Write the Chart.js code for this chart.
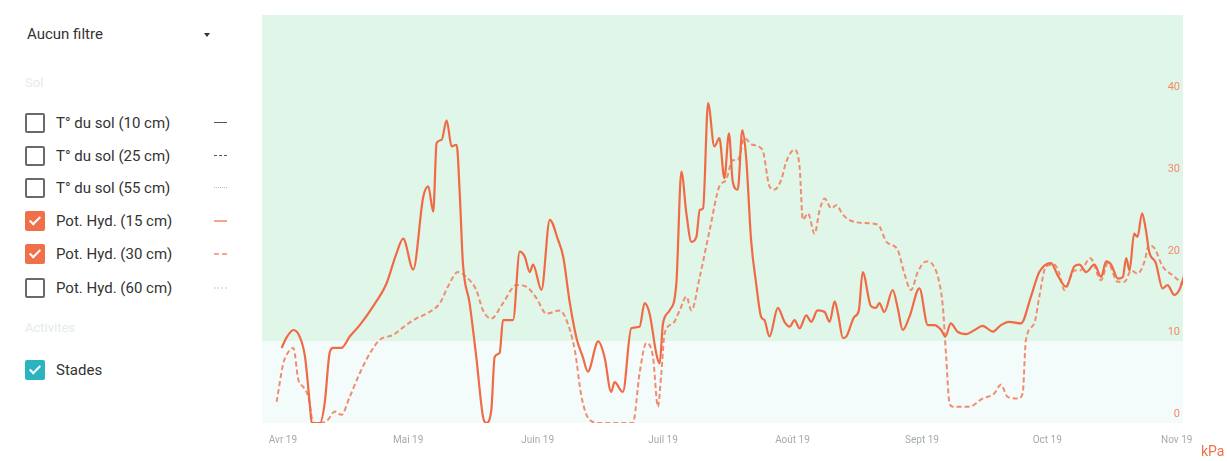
<!DOCTYPE html>
<html>
<head>
<meta charset="utf-8">
<script src="https://cdn.jsdelivr.net/npm/chart.js@4/dist/chart.umd.min.js"></script>
<style>
  html, body { margin:0; padding:0; background:#fff; width:1227px; height:461px; overflow:hidden; font-family: Roboto, "Noto Sans", sans-serif; }
  #panel { position:absolute; left:0; top:0; width:250px; height:461px; }
  .filter { position:absolute; left:27px; top:25px; font-size:15px; color:#333; }
  .arrow { position:absolute; left:204px; top:33px; width:0; height:0; border-left:3px solid transparent; border-right:3px solid transparent; border-top:4px solid #333; }
  .section { position:absolute; left:25px; font-size:13px; color:#e3ecea; }
  .row { position:absolute; left:25px; height:20px; width:210px; }
  .box { position:absolute; left:0; top:0; width:16px; height:16px; border:2px solid #6a6a6a; border-radius:2px; box-sizing:content-box; }
  .box.on { border-color:#f0704a; background:#f0704a; }
  .box.teal { border-color:#2bb3be; background:#2bb3be; }
  .box.on::after, .box.teal::after { content:""; position:absolute; left:5px; top:1px; width:4px; height:9px; border:solid #fff; border-width:0 2px 2px 0; transform:rotate(45deg); }
  .lbl { position:absolute; left:31px; top:0; font-size:15px; color:#333; line-height:20px; white-space:nowrap; }
  .ind { position:absolute; left:189px; top:9px; width:13px; height:0; }
  #chartbox { position:absolute; left:250px; top:0; width:977px; height:461px; }
  #kpa { position:absolute; left:1201px; top:443px; font-size:14px; color:#f0704a; }
</style>
</head>
<body>
<div id="panel">
  <div class="filter">Aucun filtre</div>
  <div class="arrow"></div>
  <div class="section" style="top:75px;">Sol</div>
  <div class="row" style="top:113px;"><div class="box"></div><div class="lbl">T° du sol (10 cm)</div><div class="ind" style="border-top:1px solid #555;"></div></div>
  <div class="row" style="top:146px;"><div class="box"></div><div class="lbl">T° du sol (25 cm)</div><div class="ind" style="border-top:1px dashed #555;"></div></div>
  <div class="row" style="top:178px;"><div class="box"></div><div class="lbl">T° du sol (55 cm)</div><div class="ind" style="border-top:1px dotted #bbb;"></div></div>
  <div class="row" style="top:211px;"><div class="box on"></div><div class="lbl">Pot. Hyd. (15 cm)</div><div class="ind" style="border-top:2px solid #f4a58f;"></div></div>
  <div class="row" style="top:244px;"><div class="box on"></div><div class="lbl">Pot. Hyd. (30 cm)</div><div class="ind" style="border-top:2px dashed #f4a58f;"></div></div>
  <div class="row" style="top:278px;"><div class="box"></div><div class="lbl">Pot. Hyd. (60 cm)</div><div class="ind" style="border-top:2px dotted #f8dccf;"></div></div>
  <div class="section" style="top:320px;">Activites</div>
  <div class="row" style="top:360px;"><div class="box teal"></div><div class="lbl">Stades</div></div>
</div>
<div id="chartbox"><canvas id="c"></canvas></div>
<div id="kpa">kPa</div>
<script>
// Days counted from 1 April 2019
const monthDays   = [0, 30, 61, 91, 122, 153, 183, 214];
const monthLabels = ["Avr 19", "Mai 19", "Juin 19", "Juil 19", "Août 19", "Sept 19", "Oct 19", "Nov 19"];
const yTicks = [0, 10, 20, 30, 40];

// Pot. Hyd. (15 cm) — solid
const hyd15Days = [-0.3,0.8,2.5,4,5.3,6.5,6.9,8.9,10,11.2,12,14,16,18.4,21.6,24.8,27.2,28.8,31.2,33.6,34.8,36,36.8,38,39.2,40.4,41.6,42.3,43.1,44.7,46.3,47.9,48.7,49.9,50.7,51.9,52.7,55.1,56.7,57.9,59.1,59.9,61.9,63.9,65.9,67.1,68.7,70.3,71.8,73,75.5,77,78.6,79.4,81.4,83.4,85.4,86.6,87.8,89.4,90.2,91,92.6,94.2,95.4,96.6,97.8,99,99.8,100.6,101.8,103.3,104.5,105.7,106.8,107.7,108.9,110,110.9,112.1,113.3,114.5,115.3,116.5,118.5,120.1,121.3,122.5,123.7,125.3,126.5,128,129.7,130.9,132.1,132.9,134.1,134.9,136.8,137.9,138.8,140.8,142,142.8,144,146,147.2,148.4,150,152.4,154.4,156,157.6,158.6,159.9,161.5,163.6,165.6,167.5,170,171.9,173.9,176.7,179.1,181.1,183.9,185.5,187.5,189.5,190.7,192.3,194.3,195.9,197.1,198.3,199.9,201.1,201.9,202.7,203.8,204.6,205.7,206.6,207.4,209,210.6,211.8,213.4,214.6,215.8];
const hyd15Values = [9.2,10.4,11.4,10.6,8.1,2,0,0,2.4,8.6,9.2,9.2,10.6,12,14.3,17.1,20.8,22.6,18.8,27.7,29,25.9,34.3,34.7,37.1,33.9,34.1,28.6,19.6,14.7,8.1,0.8,0,1.6,8.1,8.6,12.6,12.6,21,20.4,18.5,19.4,16.3,24.9,22.4,20.4,14.7,10.4,8.1,6.3,10,8.1,3.8,5,3.8,11.6,11.8,14.7,13.4,8.5,7.3,12.2,13.8,17.1,30.8,25.7,22.2,22.8,26.1,26.3,39.2,33.9,34.9,30,35.5,29.6,28.6,35.9,32.6,22.4,17.1,13,12.6,10.6,14.1,12.4,11.8,12.6,11.6,13.2,12.4,13.8,13.6,12.4,14.9,13.4,10.4,10.6,13,13.8,18.5,14.3,14.1,14.7,13.6,16.3,14.1,11.4,13,16.5,12,12,11.4,10.6,12.2,11.2,10.9,11.4,11.9,11.2,12,12.4,12.2,15.5,18.5,19.6,18.1,16.7,19.2,19.4,18.5,19.4,17.9,19.8,19.4,17.7,17.9,20.2,18.7,23.2,22.8,25.7,23.7,21,19.6,16.5,16.9,15.7,16.3,18.1];

// Pot. Hyd. (30 cm) — dashed
const hyd30Days = [-1.5,0.1,1.3,2.5,3.7,4.9,6.1,7.3,8.9,10.8,12.4,14,16,18.4,20.8,23.2,26.4,29.5,31.9,34.4,37.6,39.5,41.9,43.9,46.3,47.9,49.9,52.7,55.9,58.3,60.7,63.1,66.3,67.9,69.9,71.5,73.4,75.8,80.6,83.8,85.4,87,88.6,89.8,90.6,91.4,93.4,95,96.6,97.8,99.8,102.2,104.5,106.1,107.7,108.9,110.5,112.4,114.8,116.5,117.7,119.3,120.5,122.5,123.7,124.5,125.7,127.3,128.5,129.7,131.3,132.5,134.1,136.5,139.7,142.5,144.5,147.2,148.8,150.4,152,154,155.6,157.2,158,158.8,159.6,160.4,164.4,167.5,170.3,171.9,173.5,175.9,177.1,177.9,179.9,181.1,182.7,184.7,185.9,187.1,189.5,190.9,193.3,195.9,197.5,199.9,201.5,203.1,204.6,206.3,207.3,208.7,210.6,213,215.8];
const hyd30Values = [2.6,7.3,8.7,9.2,5.3,4.4,3.2,0,0,0.4,1.4,1,3.2,6.1,8.5,10.2,10.8,12,12.8,13.4,14.7,16.7,18.5,17.9,16.3,13.8,12.8,14.7,16.9,16.7,15.3,13.4,13.8,12.6,8.9,3.2,0.4,0,0,0,6.1,9.8,8.1,2,6.1,11,12.2,13.8,15.5,13.8,17.9,23.7,29,29.8,32.2,32.2,34.9,34.1,33.5,29,28.6,29.8,32,33.5,31.4,24.9,25.7,23.2,26.1,27.5,26.3,26.7,25.5,24.7,24.5,24.3,22.2,21.2,18.3,16.3,18.5,19.8,19.4,17.1,14.3,8.1,2.4,2,2,3,3.6,4.7,3.2,3,3.6,10.2,12.2,15.5,19.2,19.4,18.3,16.3,18.7,18.7,20.2,17.5,19.6,17.3,17.3,18.7,18.3,19.8,21.8,21.4,19.2,18.1,16.9];

const toPts = (xs, ys) => xs.map((x, i) => ({x, y: ys[i]}));

const bandPlugin = {
  id: 'bands',
  beforeDraw(chart) {
    const {ctx, chartArea: a, scales: {y}} = chart;
    ctx.save();
    const y10 = y.getPixelForValue(10);
    ctx.fillStyle = '#dff6e9';
    ctx.fillRect(a.left, a.top, a.right - a.left, y10 - a.top);
    ctx.fillStyle = '#f4fbfb';
    ctx.fillRect(a.left, y10, a.right - a.left, a.bottom - y10);
    ctx.restore();
  }
};

new Chart(document.getElementById('c'), {
  type: 'line',
  data: {
    datasets: [
      { label: 'Pot. Hyd. (15 cm)', data: toPts(hyd15Days, hyd15Values), borderColor: '#f06a45', borderWidth: 2.2, pointRadius: 0, cubicInterpolationMode: 'monotone', fill: false },
      { label: 'Pot. Hyd. (30 cm)', data: toPts(hyd30Days, hyd30Values), borderColor: '#f28c6e', borderWidth: 2, borderDash: [5, 3], pointRadius: 0, cubicInterpolationMode: 'monotone', fill: false }
    ]
  },
  options: {
    responsive: true,
    maintainAspectRatio: false,
    animation: false,
    layout: { padding: { left: 12, top: 15, right: 44, bottom: 0 } },
    plugins: { legend: { display: false }, tooltip: { enabled: false } },
    scales: {
      x: {
        type: 'linear', min: -5, max: 215.5,
        grid: { display: false, drawTicks: false },
        border: { display: false },
        afterBuildTicks: s => { s.ticks = monthDays.map(v => ({value: v})); },
        afterFit: s => { s.height = 38; },
        ticks: {
          padding: 11,
          maxRotation: 0,
          autoSkip: false,
          color: '#a3aca8',
          font: { size: 10, family: 'Roboto' },
          callback: v => monthLabels[monthDays.indexOf(v)]
        }
      },
      y: {
        position: 'right', min: 0, max: 50,
        grid: { display: false, drawTicks: false },
        border: { display: false },
        afterBuildTicks: s => { s.ticks = yTicks.map(v => ({value: v})); },
        afterFit: s => { s.width = 0; },
        ticks: {
          mirror: true,
          padding: -3,
          labelOffset: -9,
          color: '#f4896b',
          font: { size: 11, family: 'Roboto' }
        }
      }
    }
  },
  plugins: [bandPlugin]
});
</script>
</body>
</html>
